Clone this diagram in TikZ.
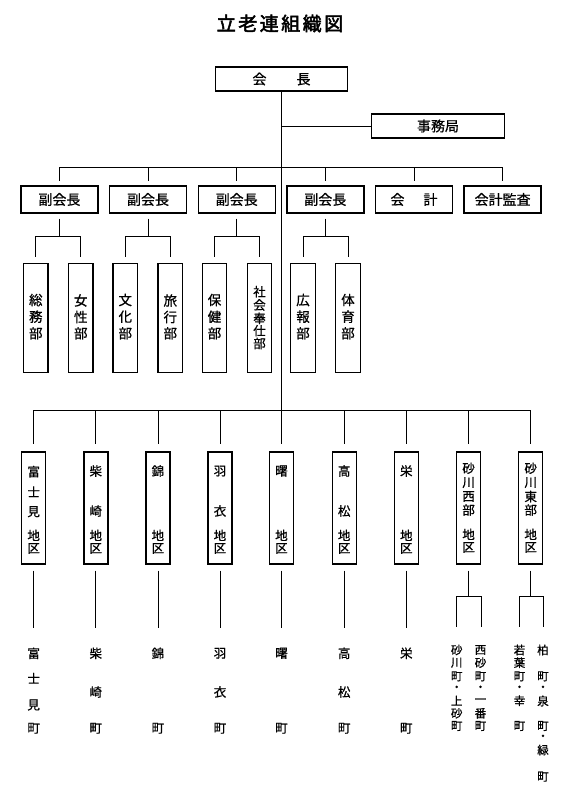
\documentclass[tikz,border=0pt]{standalone}
\usepackage{fontspec}
\newfontfamily\jp[FakeBold=0.8]{Noto Sans CJK JP}
\newfontfamily\jpb[FakeBold=2.5]{Noto Sans CJK JP}
\newcommand\jcol[4]{\foreach \chr/\yy [count=\kk] in {#4} \node[#3] (#1-\kk) at (#2,\yy) {\chr};}
\begin{document}
\begin{tikzpicture}[x=1pt,y=-1pt,
  box/.style={draw,line width=1.4pt,inner sep=0pt,font=\jp\fontsize{14}{14}\selectfont},
  ln/.style={line width=0.7pt},
  ch/.style={inner sep=0pt,font=\jp\fontsize{13.5}{13.5}\selectfont},
  sch/.style={inner sep=0pt,font=\jp\fontsize{12.5}{12.5}\selectfont},
  bch/.style={inner sep=0pt,font=\jp\fontsize{12.5}{12.5}\selectfont},
  tch/.style={inner sep=0pt,font=\jp\fontsize{11.5}{11.5}\selectfont},
  vbox/.style={box,minimum width=77pt,minimum height=27pt},
  pbox/.style={box,minimum width=24.5pt,minimum height=109.5pt},
  dbox/.style={box,minimum width=24pt,minimum height=112pt},
]
\useasboundingbox (0,0) rectangle (573,800);
\fill[white] (0,0) rectangle (573,800);

% title
\node[inner sep=0pt,font=\jpb\fontsize{19}{19}\selectfont] (title) at (280,23.5)
  {立\hspace{2.5pt}老\hspace{2.5pt}連\hspace{2.5pt}組\hspace{2.5pt}織\hspace{2.5pt}図};

% top
\node[box,minimum width=132pt,minimum height=24pt] (pres) at (281.5,79) {会\hspace{30pt}長};
\node[box,minimum width=133pt,minimum height=24pt] (jim) at (438,126) {事務局};

% vice row
\node[vbox] (v1) at (59.4,199.5) {副会長};
\node[vbox] (v2) at (148,199.5) {副会長};
\node[vbox] (v3) at (236.7,199.5) {副会長};
\node[vbox] (v4) at (325.3,199.5) {副会長};
\node[vbox] (v5) at (414,199.5) {会\hspace{19pt}計};
\node[vbox] (v6) at (502.6,199.5) {会計監査};

% departments
\node[pbox] (p1) at (35.8,318) {};
\node[pbox] (p2) at (80.8,318) {};
\node[pbox] (p3) at (125.3,318) {};
\node[pbox] (p4) at (170.3,318) {};
\node[pbox] (p5) at (214.5,318) {};
\node[pbox] (p6) at (259.5,318) {};
\node[pbox] (p7) at (303,318) {};
\node[pbox] (p8) at (348,318) {};
\jcol{p1t}{35.8}{ch}{総/300,務/316.7,部/333.3}
\jcol{p2t}{80.8}{ch}{女/300.5,性/317,部/333.3}
\jcol{p3t}{125.3}{ch}{文/300,化/316.7,部/333.3}
\jcol{p4t}{170.3}{ch}{旅/300.5,行/317,部/333.3}
\jcol{p5t}{214.5}{ch}{保/300,健/316.7,部/333.3}
\jcol{p6t}{259.5}{sch}{社/291.7,会/305,奉/318.3,仕/330.7,部/343.5}
\jcol{p7t}{303}{ch}{広/300,報/316.7,部/333.3}
\jcol{p8t}{348}{ch}{体/300,育/316.7,部/333.3}

% districts
\node[dbox] (d1) at (33.7,508) {};
\node[dbox] (d2) at (95.8,508) {};
\node[dbox] (d3) at (157.9,508) {};
\node[dbox] (d4) at (220,508) {};
\node[dbox] (d5) at (281.5,508) {};
\node[dbox] (d6) at (344.2,508) {};
\node[dbox] (d7) at (406.3,508) {};
\node[dbox] (d8) at (468.6,508) {};
\node[dbox] (d9) at (530.7,508) {};
\jcol{d1t}{33.7}{sch}{富/471.7,士/491.7,見/511.7,地/535.3,区/548.5}
\jcol{d2t}{95.8}{sch}{柴/471,崎/511,地/535.3,区/548.5}
\jcol{d3t}{157.9}{sch}{錦/471,地/535.3,区/548.5}
\jcol{d4t}{220}{sch}{羽/471,衣/511,地/535.3,区/548.5}
\jcol{d5t}{281.5}{sch}{曙/471,地/535.3,区/548.5}
\jcol{d6t}{344.2}{sch}{高/471,松/511,地/535.3,区/548.5}
\jcol{d7t}{406.3}{sch}{栄/471,地/535.3,区/548.5}
\jcol{d8t}{468.6}{sch}{砂/468.3,川/482.5,西/496.5,部/510,地/534.3,区/547.5}
\jcol{d9t}{530.7}{sch}{砂/468.3,川/482.5,東/496.5,部/510,地/534.3,区/547.5}

% bottom town names
\jcol{b1}{33.7}{bch}{富/653.3,士/678.3,見/705,町/728.3}
\jcol{b2}{95.8}{bch}{柴/653.3,崎/692,町/728.3}
\jcol{b3}{157.9}{bch}{錦/653.3,町/728.3}
\jcol{b4}{220}{bch}{羽/653.3,衣/692,町/728.3}
\jcol{b5}{281.5}{bch}{曙/653.3,町/728.3}
\jcol{b6}{344.2}{bch}{高/653.3,松/692,町/728.3}
\jcol{b7}{406.3}{bch}{栄/653.3,町/728.3}
\jcol{b8a}{456.7}{tch}{砂/650,川/662.7,町/676.3,・/688.5,上/700.7,砂/713.3,町/726}
\jcol{b8b}{480.5}{tch}{西/650,砂/662.7,町/676.3,・/688.5,一/701,番/713.3,町/726}
\jcol{b9a}{519.5}{tch}{若/650,葉/662.7,町/676.3,・/688.5,幸/700.7,町/726}
\jcol{b9b}{543}{tch}{柏/650,町/676.3,・/688.5,泉/701,町/726,・/737.5,緑/750,町/776.7}

% connectors
\coordinate (vbar) at (0,167);
\coordinate (pbar) at (0,236);
\coordinate (dbar) at (0,410);
\coordinate (lbot) at (0,628);
\coordinate (sbar) at (0,596.7);
\coordinate (s8a) at (456.7,626.7);
\coordinate (s8b) at (481.7,626.7);
\coordinate (s9a) at (519,626.7);
\coordinate (s9b) at (543.3,626.7);

\draw[ln,shorten >=7pt] (pres.south) -- (d5.north);
\draw[ln] (jim.west) -- (jim.west -| pres.south);
\draw[ln] (v1.north |- vbar) -- (v6.north |- vbar);
\foreach \i in {1,...,6} \draw[ln,shorten >=4pt] (v\i.north |- vbar) -- (v\i.north);
\foreach \v/\a/\b in {1/1/2,2/3/4,3/5/6,4/7/8}{
  \draw[ln,shorten <=5pt] (v\v.south) -- (v\v.south |- pbar);
  \draw[ln,shorten <=6pt,shorten >=6pt] (p\a.north) -- (p\a.north |- pbar) -- (p\b.north |- pbar) -- (p\b.north);
}
\draw[ln] (d1.north |- dbar) -- (d9.north |- dbar);
\foreach \i in {1,2,3,4,6,7,8,9} \draw[ln,shorten >=7pt] (d\i.north |- dbar) -- (d\i.north);
\foreach \i in {1,...,7} \draw[ln,shorten <=6pt] (d\i.south) -- (d\i.south |- lbot);
\draw[ln,shorten <=6pt] (d8.south) -- (d8.south |- sbar);
\draw[ln,shorten <=6pt] (d9.south) -- (d9.south |- sbar);
\draw[ln] (s8a) -- (s8a |- sbar) -- (s8b |- sbar) -- (s8b);
\draw[ln] (s9a) -- (s9a |- sbar) -- (s9b |- sbar) -- (s9b);
\end{tikzpicture}
\end{document}
